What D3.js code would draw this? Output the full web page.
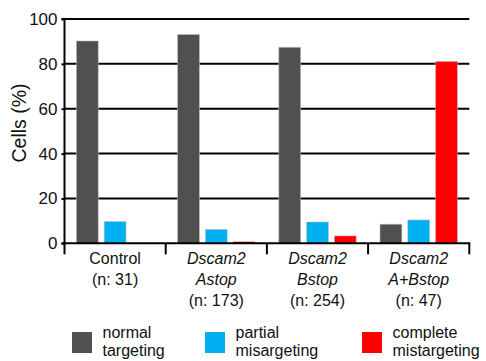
<!DOCTYPE html>
<html>
<head>
<meta charset="utf-8">
<script src="https://cdn.jsdelivr.net/npm/d3@7/dist/d3.min.js"></script>
<style>
  html, body { margin: 0; padding: 0; background: #fff; }
  svg { display: block; font-family: "Liberation Sans", Arial, sans-serif; }
</style>
</head>
<body>
<svg id="chart" width="486" height="361"></svg>
<script>
// Genotype groups: each label is a list of lines [text, italic]
const categories = ["Control", "Dscam2 Astop", "Dscam2 Bstop", "Dscam2 A+Bstop"];
const categoryLines = [
  [["Control", false], ["(n: 31)", false]],
  [["Dscam2", true], ["Astop", true], ["(n: 173)", false]],
  [["Dscam2", true], ["Bstop", true], ["(n: 254)", false]],
  [["Dscam2", true], ["A+Bstop", true], ["(n: 47)", false]]
];

// Percentage of cells in each targeting class
const seriesKeys = ["normal", "partial", "complete"];
const normalTargeting = [90.2, 93.1, 87.4, 8.5];
const partialMistargeting = [9.7, 6.2, 9.5, 10.4];
const completeMistargeting = [0, 0.7, 3.3, 81.1];

const seriesColors = ["#505050", "#00b0f0", "#ff0000"];
const legendLines = [["normal", "targeting"], ["partial", "misargeting"], ["complete", "mistargeting"]];
const yTicks = [0, 20, 40, 60, 80, 100];

const seriesValues = [normalTargeting, partialMistargeting, completeMistargeting];
const table = categories.map((c, i) => ({
  category: c,
  values: seriesKeys.map((k, j) => ({ key: k, value: seriesValues[j][i], color: seriesColors[j] }))
}));

const svg = d3.select("#chart");
const plotLeft = 64.5, plotRight = 469.3, plotTop = 19, plotBottom = 243.3;

const x0 = d3.scaleBand().domain(categories).range([plotLeft, plotRight]).paddingInner(0).paddingOuter(0);
const x1 = d3.scaleBand().domain(seriesKeys).range([0, x0.bandwidth()])
  .paddingInner(6 / 28).paddingOuter(12 / 28);
const y = d3.scaleLinear().domain([0, 100]).range([plotBottom, plotTop]);

// Horizontal gridlines
svg.append("g")
  .selectAll("line")
  .data(yTicks.filter(t => t > 0))
  .join("line")
  .attr("x1", plotLeft).attr("x2", plotRight)
  .attr("y1", d => y(d)).attr("y2", d => y(d))
  .attr("stroke", "#000").attr("stroke-width", 2);

// Left axis
const yAxis = d3.axisLeft(y).tickValues(yTicks).tickSize(3).tickPadding(4);
const gy = svg.append("g").attr("transform", `translate(${plotLeft},0)`).call(yAxis);
gy.select(".domain").attr("stroke-width", 2).attr("d", `M-3,${plotTop}H0V${plotBottom}`);
gy.selectAll(".tick line").attr("stroke-width", 2);
gy.selectAll(".tick text")
  .attr("font-size", 17)
  .attr("fill", "#111")
  .attr("font-family", "Liberation Sans, Arial, sans-serif");

// Bars
const groups = svg.append("g")
  .selectAll("g")
  .data(table)
  .join("g")
  .attr("transform", d => `translate(${x0(d.category)},0)`);

groups.selectAll("rect")
  .data(d => d.values)
  .join("rect")
  .attr("x", d => x1(d.key))
  .attr("width", x1.bandwidth())
  .attr("y", d => y(d.value))
  .attr("height", d => y(0) - y(d.value))
  .attr("fill", d => d.color)
  .attr("stroke", d => d.value > 0 ? "rgba(190,190,190,0.7)" : "none")
  .attr("stroke-width", 0.8);

// Bottom axis with category dividers
const dividers = categories.map(c => x0(c)).concat([plotRight]);
svg.append("line")
  .attr("x1", plotLeft - 3).attr("x2", plotRight + 1)
  .attr("y1", plotBottom).attr("y2", plotBottom)
  .attr("stroke", "#000").attr("stroke-width", 2);
svg.append("g")
  .selectAll("line")
  .data(dividers)
  .join("line")
  .attr("x1", d => d).attr("x2", d => d)
  .attr("y1", plotBottom).attr("y2", plotBottom + 11)
  .attr("stroke", "#000").attr("stroke-width", 2);

// Category labels
const labelBaselines = [263.5, 284.5, 305.5];
svg.append("g")
  .selectAll("g")
  .data(categories)
  .join("g")
  .attr("transform", c => `translate(${x0(c) + x0.bandwidth() / 2},0)`)
  .each(function (c, i) {
    d3.select(this).selectAll("text")
      .data(categoryLines[i])
      .join("text")
      .attr("y", (d, k) => labelBaselines[k])
      .attr("text-anchor", "middle")
      .attr("font-size", 16)
      .attr("font-style", d => d[1] ? "italic" : "normal")
      .attr("fill", "#111")
      .text(d => d[0]);
  });

// Y axis title
svg.append("text")
  .attr("transform", "translate(26,123) rotate(-90)")
  .attr("text-anchor", "middle")
  .attr("font-size", 19.5)
  .attr("fill", "#111")
  .text("Cells (%)");

// Legend
const legendX = [72, 205, 362];
const legend = svg.append("g")
  .selectAll("g")
  .data(seriesKeys)
  .join("g")
  .attr("transform", (d, i) => `translate(${legendX[i]},332)`);
legend.append("rect")
  .attr("width", 20).attr("height", 21)
  .attr("fill", (d, i) => seriesColors[i]);
legend.each(function (d, i) {
  d3.select(this).selectAll("text")
    .data(legendLines[i])
    .join("text")
    .attr("x", 30.5)
    .attr("y", (t, k) => 6.3 + k * 18)
    .attr("font-size", 16)
    .attr("fill", "#111")
    .text(t => t);
});
</script>
</body>
</html>
